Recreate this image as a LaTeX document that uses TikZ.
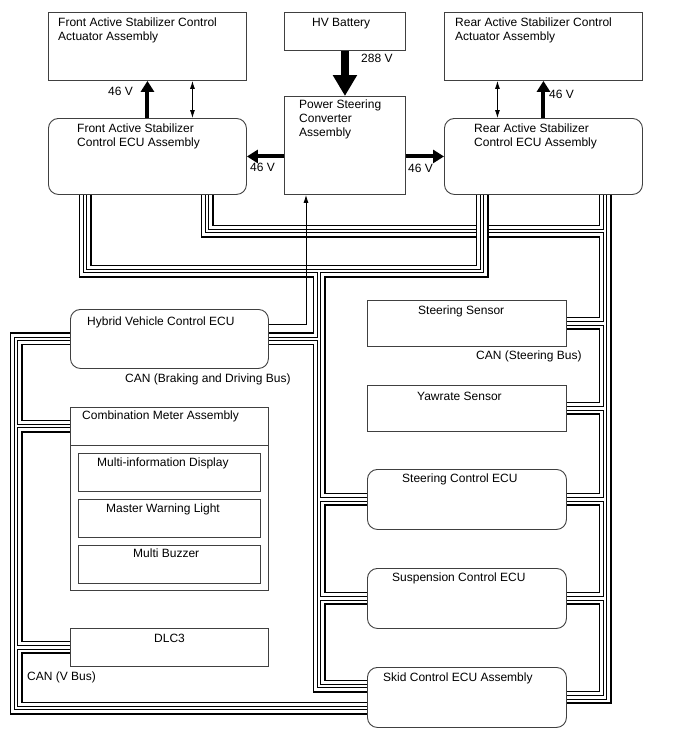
\documentclass[tikz,border=0pt]{standalone}
\usepackage{fontspec}
\setmainfont{Liberation Sans}
\usetikzlibrary{arrows.meta,backgrounds}

\tikzstyle{block} = [rectangle, draw=black!75, line width=0.9pt, fill=white, anchor=north west, inner sep=0pt]
\tikzstyle{ecu} = [block, rounded corners=10pt]
\tikzstyle{txt} = [inner sep=0pt, anchor=north west, align=left]
\tikzstyle{power} = [line width=4pt, -{Triangle[width=13pt,length=11pt]}]
\tikzstyle{bigpower} = [line width=8pt, -{Triangle[width=23pt,length=21pt]}]
\tikzstyle{signal} = [line width=0.8pt, -{Latex[width=5pt,length=8pt]}]
\tikzstyle{pair} = [line width=0.8pt, {Latex[width=5pt,length=8pt]}-{Latex[width=5pt,length=8pt]}]

\newcommand{\canbus}[1]{\foreach \lw/\col in {13/black,10/white,4.5/black,2.5/white}{\draw[line width=\lw pt, \col] #1;}}

\begin{document}
\begin{tikzpicture}[x=1pt, y=-1pt, font=\fontsize{12}{14}\selectfont]
    \useasboundingbox (0,0) rectangle (688,755);
    \node (fact) [block, minimum width=198pt, minimum height=68pt] at (48,12) {};
    \node (hvb) [block, minimum width=121pt, minimum height=38pt] at (284,12) {};
    \node (ract) [block, minimum width=198pt, minimum height=68pt] at (444,12) {};
    \node (fecu) [ecu, minimum width=198pt, minimum height=76pt] at (48,118) {};
    \node (psc) [block, minimum width=121pt, minimum height=98pt] at (284,96) {};
    \node (recu) [ecu, minimum width=198pt, minimum height=76pt] at (444,118) {};
    \node (hvecu) [ecu, minimum width=198pt, minimum height=59pt] at (70,309) {};
    \node (meter) [block, minimum width=198pt, minimum height=183pt] at (70,407) {};
    \node (mid) [block, minimum width=182pt, minimum height=38pt] at (78,453) {};
    \node (mwl) [block, minimum width=182pt, minimum height=38pt] at (78,499) {};
    \node (mbz) [block, minimum width=182pt, minimum height=38pt] at (78,545) {};
    \node (dlc) [block, minimum width=198pt, minimum height=38pt] at (70,628) {};
    \node (ssen) [block, minimum width=199pt, minimum height=46pt] at (367,300) {};
    \node (ysen) [block, minimum width=199pt, minimum height=46pt] at (367,385) {};
    \node (secu) [ecu, minimum width=199pt, minimum height=60pt] at (367,469) {};
    \node (suecu) [ecu, minimum width=199pt, minimum height=60pt] at (367,568) {};
    \node (skid) [ecu, minimum width=199pt, minimum height=60pt] at (367,667) {};
    \draw [draw=black!75, line width=0.9pt] ([yshift=-38pt]meter.north west) -- ([yshift=-38pt]meter.north east);

    \node (fact-t) [txt] at (58,18) {Front Active Stabilizer Control\\Actuator Assembly};
    \node (hvb-t) [txt] at (312,18) {HV Battery};
    \node (ract-t) [txt] at (455,18) {Rear Active Stabilizer Control\\Actuator Assembly};
    \node (fecu-t) [txt] at (77,124) {Front Active Stabilizer\\Control ECU Assembly};
    \node (psc-t) [txt] at (299,100) {Power Steering\\Converter\\Assembly};
    \node (recu-t) [txt] at (474,124) {Rear Active Stabilizer\\Control ECU Assembly};
    \node (hvecu-t) [txt] at (87,317) {Hybrid Vehicle Control ECU};
    \node (meter-t) [txt] at (82,411) {Combination Meter Assembly};
    \node (mid-t) [txt] at (97,458) {Multi-information Display};
    \node (mwl-t) [txt] at (106,504) {Master Warning Light};
    \node (mbz-t) [txt] at (133,549) {Multi Buzzer};
    \node (dlc-t) [txt] at (154,634) {DLC3};
    \node (ssen-t) [txt] at (418,306) {Steering Sensor};
    \node (ysen-t) [txt] at (417,392) {Yawrate Sensor};
    \node (secu-t) [txt] at (402,474) {Steering Control ECU};
    \node (suecu-t) [txt] at (392,573) {Suspension Control ECU};
    \node (skid-t) [txt] at (383,673) {Skid Control ECU Assembly};
    \node (v1) [txt] at (108,87) {46 V};
    \node (v2) [txt] at (250,163) {46 V};
    \node (v3) [txt] at (361,54) {288 V};
    \node (v4) [txt] at (549,90) {46 V};
    \node (v5) [txt] at (408,164) {46 V};
    \node (bus1) [txt] at (125,374) {CAN (Braking and Driving Bus)};
    \node (bus2) [txt] at (476,351) {CAN (Steering Bus)};
    \node (bus3) [txt] at (27,672) {CAN (V Bus)};

    \coordinate (fl) at (85,271);
    \coordinate (rl) at (482,271);
    \coordinate (sl) at (319,271);
    \coordinate (el) at (319,686);
    \coordinate (fr) at (207,231);
    \coordinate (sr) at (605,231);
    \coordinate (vt) at (16,339);
    \coordinate (vm) at (16,426);
    \coordinate (vb) at (16,708);

    \begin{pgfonlayer}{background}
        \canbus{(fecu.south -| fr) -- (fr) -- (sr) (recu.south -| sr) -- (skid.east -| sr) -- (skid.east)
            (ssen.east) -- (ssen.east -| sr) (ysen.east) -- (ysen.east -| sr)
            (secu.east) -- (secu.east -| sr) (suecu.east) -- (suecu.east -| sr)}
        \canbus{(fecu.south -| fl) -- (fl) -- (rl) -- (recu.south -| rl) (sl) -- (el) -- (skid.west |- el)
            (hvecu.east) -- (hvecu.east -| sl) (secu.west) -- (secu.west -| sl) (suecu.west) -- (suecu.west -| sl)}
        \canbus{(hvecu.west) -- (hvecu.west -| vt) -- (vb) -- (skid.west |- vb)
            (meter.west |- vm) -- (vm) (dlc.west) -- (dlc.west -| vt)}
    \end{pgfonlayer}

    \draw [bigpower] (hvb.south) -- (psc.north);
    \draw [power] (fecu.north) -- (fact.south);
    \draw [pair] ([xshift=45pt]fecu.north) -- ([xshift=45pt]fact.south);
    \draw [power] (recu.north) -- (ract.south);
    \draw [pair] ([xshift=-46pt]recu.north) -- ([xshift=-46pt]ract.south);
    \draw [power] (psc.west |- fecu.east) -- (fecu.east);
    \draw [power] (psc.east |- recu.west) -- (recu.west);
    \draw [signal] ([yshift=-15pt]hvecu.north east) -| ([xshift=22pt]psc.south west);
\end{tikzpicture}
\end{document}
